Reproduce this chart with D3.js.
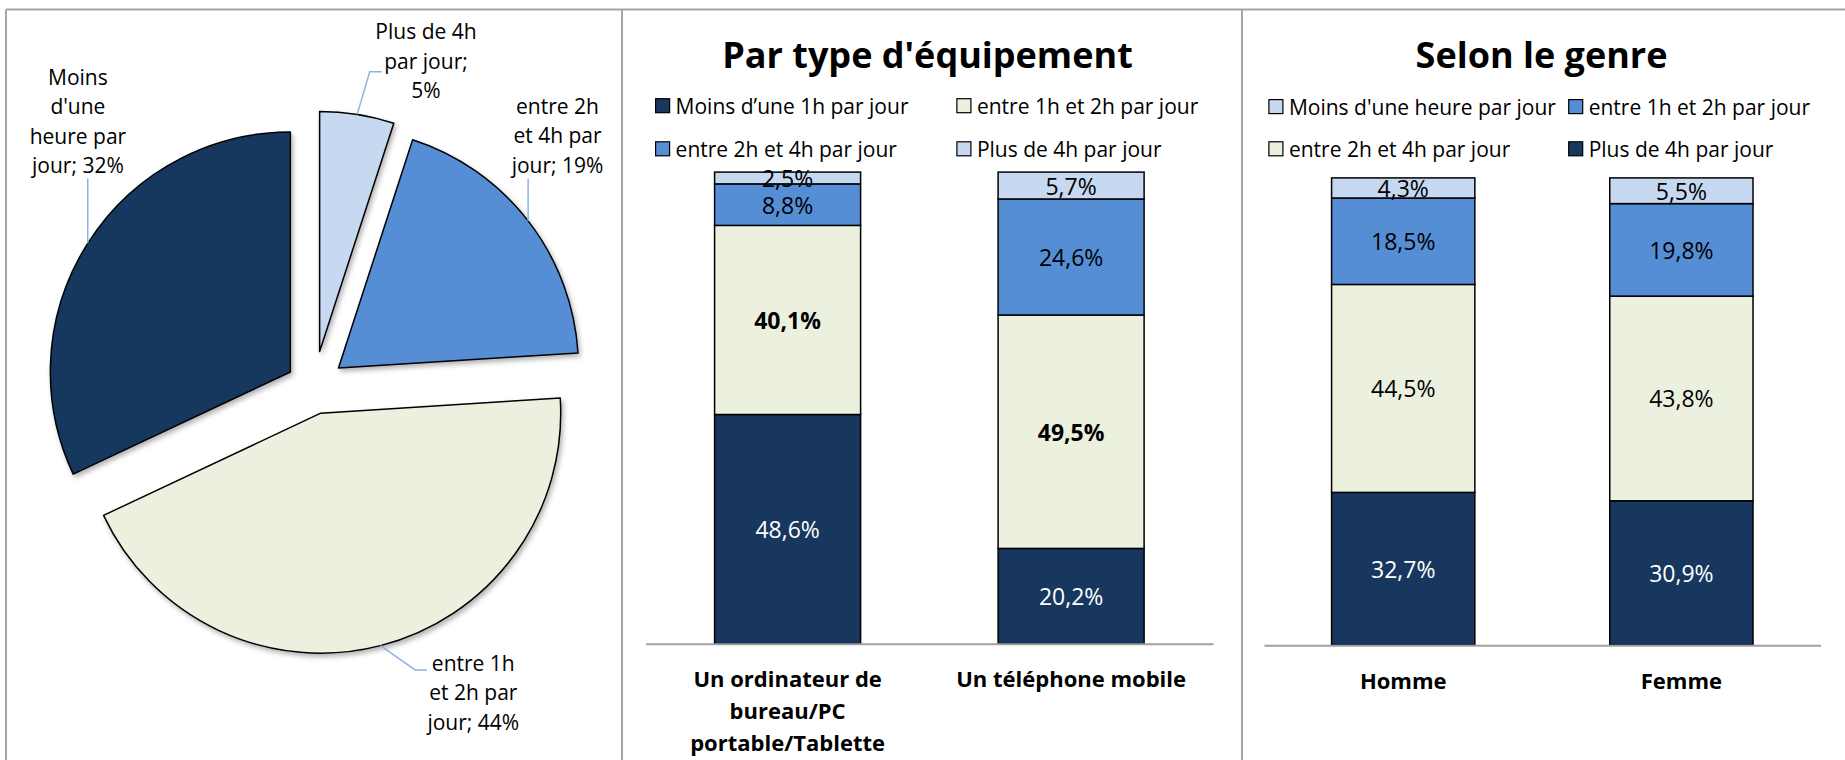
<!DOCTYPE html>
<html>
<head>
<meta charset="utf-8">
<script src="https://cdn.jsdelivr.net/npm/d3@7"></script>
<style>
  body { margin: 0; background: #fff; }
  svg text { font-family: "Open Sans", sans-serif; }
</style>
</head>
<body>
<div id="chart"></div>
<script>
// ---- data ----
// pie, clockwise from 12 o'clock (label text ends with the value)
const pieNames = ["Plus de 4h\npar jour;\n", "entre 2h\net 4h par\njour; ", "entre 1h\net 2h par\njour; ", "Moins\nd'une\nheure par\njour; "]
const pieValues = [5, 19, 44, 32]

// par type d'equipement
const deviceCats = ["Un ordinateur de\nbureau/PC\nportable/Tablette", "Un téléphone mobile"]
const deviceSeries = ["Moins d’une 1h par jour", "entre 1h et 2h par jour", "entre 2h et 4h par jour", "Plus de 4h par jour"]
const deviceMoins1h = [48.6, 20.2]
const device1h2h = [40.1, 49.5]
const device2h4h = [8.8, 24.6]
const devicePlus4h = [2.5, 5.7]

// selon le genre (stacked bottom -> top as drawn)
const genderCats = ["Homme", "Femme"]
const genderSeries = ["Moins d'une heure par jour", "entre 1h et 2h par jour", "entre 2h et 4h par jour", "Plus de 4h par jour"]
const genderPlus4h = [32.7, 30.9]
const gender2h4h = [44.5, 43.8]
const gender1h2h = [18.5, 19.8]
const genderMoins1h = [4.3, 5.5]

const DARK = "#17375E", BLUE = "#558ED5", GREEN = "#EBF1DE", LIGHT = "#C6D9F1"
const fmt = v => String(v).replace(".", ",") + "%"

const W = 1845, H = 760
const svg = d3.select("#chart").append("svg")
  .attr("width", W).attr("height", H)
  .style("display", "block")

svg.append("rect").attr("width", W).attr("height", H).attr("fill", "#fff")

const defs = svg.append("defs")
defs.append("filter").attr("id", "shadow")
  .attr("x", "-10%").attr("y", "-10%").attr("width", "130%").attr("height", "130%")
  .append("feDropShadow")
  .attr("dx", 2).attr("dy", 3).attr("stdDeviation", 2.5)
  .attr("flood-color", "#000").attr("flood-opacity", 0.3)

// panel frame
const frame = svg.append("g").attr("stroke", "#A6A6A6").attr("stroke-width", 2).attr("fill", "none")
frame.append("line").attr("x1", 6).attr("x2", W).attr("y1", 9.5).attr("y2", 9.5)
;[6, 622, 1242].forEach(x => {
  frame.append("line").attr("x1", x).attr("x2", x).attr("y1", 9.5).attr("y2", H)
})

// ---- pie ----
const pieC = [314, 387]
const pieR = 240
const pieColors = [LIGHT, BLUE, GREEN, DARK]
const explode = [36, 31, 27, 28]
// label centre (first line) and leader bends, relative to pie centre
const pieLabelLayout = [
  { x: 112, y: -356, leader: [[55.7, -315.3], [67.6, -315.3]] },
  { x: 243.5, y: -281.3, leader: "up" },
  { x: 159.3, y: 275.6, leader: [[101.2, 282.9], [113, 282.9]] },
  { x: -236.1, y: -310.4, leader: "up" }
]
const lineH = 29.6

const arcs = d3.pie().sort(null).startAngle(0)(pieValues)
const arc = d3.arc().innerRadius(0).outerRadius(pieR)
const pieG = svg.append("g").attr("transform", `translate(${pieC[0]},${pieC[1]})`)

arcs.forEach((a, i) => {
  const mid = (a.startAngle + a.endAngle) / 2
  const ox = explode[i] * Math.sin(mid), oy = -explode[i] * Math.cos(mid)
  pieG.append("path")
    .attr("d", arc(a))
    .attr("transform", `translate(${ox},${oy})`)
    .attr("fill", pieColors[i])
    .attr("stroke", "#000")
    .attr("stroke-width", 1.5)
    .attr("stroke-linejoin", "round")
    .attr("filter", "url(#shadow)")

  // leader line from the middle of the outer arc
  const sx = ox + pieR * Math.sin(mid), sy = oy - pieR * Math.cos(mid)
  const lay = pieLabelLayout[i]
  let pts = [[sx, sy]]
  if (lay.leader === "up") pts.push([sx, -208.6])
  else pts = pts.concat(lay.leader)
  pieG.append("path")
    .attr("d", d3.line()(pts))
    .attr("fill", "none")
    .attr("stroke", "#8DB3E2")
    .attr("stroke-width", 1.5)

  const lines = (pieNames[i] + pieValues[i] + "%").split("\n")
  const t = pieG.append("text")
    .attr("text-anchor", "middle")
    .attr("font-size", 21)
    .attr("fill", "#000")
  lines.forEach((s, k) => {
    t.append("tspan")
      .attr("x", lay.x)
      .attr("y", lay.y + k * lineH)
      .attr("dominant-baseline", "central")
      .text(s)
  })
})

// ---- stacked bars ----
function stackedChart(o) {
  const g = svg.append("g")
  const rows = o.cats.map((c, i) => {
    const r = { cat: c }
    o.keys.forEach((k, j) => { r[k] = o.values[j][i] })
    return r
  })
  const series = d3.stack().keys(o.keys)(rows)

  const x = d3.scaleBand().domain(o.cats).range(o.xRange)
    .paddingInner(0.485).paddingOuter(0.243)
  const y = d3.scaleLinear().domain([0, 100]).range(o.yRange)

  g.append("text")
    .attr("x", o.titleX).attr("y", 67.9)
    .attr("text-anchor", "middle")
    .attr("font-size", 36).attr("font-weight", "bold")
    .text(o.title)

  // legend
  o.legend.forEach((l, i) => {
    const lx = o.legendX[i % 2], ly = o.legendY[Math.floor(i / 2)]
    g.append("rect")
      .attr("x", lx).attr("y", ly - 7)
      .attr("width", 14).attr("height", 14)
      .attr("fill", l.color).attr("stroke", "#000").attr("stroke-width", 1.2)
    g.append("text")
      .attr("x", lx + 20).attr("y", ly)
      .attr("dominant-baseline", "central")
      .attr("font-size", 21)
      .text(l.name)
  })

  series.forEach((s, j) => {
    g.selectAll(null).data(s).join("rect")
      .attr("x", d => x(d.data.cat))
      .attr("y", d => y(d[1]))
      .attr("width", x.bandwidth())
      .attr("height", d => y(d[0]) - y(d[1]))
      .attr("fill", o.colors[j])
      .attr("stroke", "#000")
      .attr("stroke-width", 1.5)
  })

  g.append("g")
    .attr("transform", `translate(0,${y(0)})`)
    .call(d3.axisBottom(x).tickSize(0).tickSizeOuter(0).tickFormat(""))
    .call(a => a.select(".domain").attr("stroke", "#A0A0A0").attr("stroke-width", 2))

  series.forEach((s, j) => {
    g.selectAll(null).data(s).join("text")
      .attr("x", d => x(d.data.cat) + x.bandwidth() / 2)
      .attr("y", d => (y(d[0]) + y(d[1])) / 2)
      .attr("text-anchor", "middle")
      .attr("dominant-baseline", "central")
      .attr("font-size", 23)
      .attr("font-weight", o.boldKey === o.keys[j] ? "bold" : "normal")
      .attr("fill", o.colors[j] === DARK ? "#fff" : "#000")
      .text(d => fmt(d.data[o.keys[j]]))
  })

  // category labels
  o.cats.forEach(c => {
    const t = g.append("text")
      .attr("text-anchor", "middle")
      .attr("font-size", 22).attr("font-weight", "bold")
    c.split("\n").forEach((s, k) => {
      t.append("tspan")
        .attr("x", x(c) + x.bandwidth() / 2)
        .attr("y", o.catY + k * 32)
        .attr("dominant-baseline", "central")
        .text(s)
    })
  })
}

stackedChart({
  title: "Par type d'équipement",
  titleX: 927.5,
  cats: deviceCats,
  keys: ["moins", "h12", "h24", "plus"],
  values: [deviceMoins1h, device1h2h, device2h4h, devicePlus4h],
  colors: [DARK, GREEN, BLUE, LIGHT],
  boldKey: "h12",
  xRange: [645.7, 1213],
  yRange: [643.7, 172.1],
  catY: 677.6,
  legendX: [655.6, 956.9],
  legendY: [105.7, 148.8],
  legend: [
    { name: deviceSeries[0], color: DARK },
    { name: deviceSeries[1], color: GREEN },
    { name: deviceSeries[2], color: BLUE },
    { name: deviceSeries[3], color: LIGHT }
  ]
})

stackedChart({
  title: "Selon le genre",
  titleX: 1541.5,
  cats: genderCats,
  keys: ["plus", "h24", "h12", "moins"],
  values: [genderPlus4h, gender2h4h, gender1h2h, genderMoins1h],
  colors: [DARK, GREEN, BLUE, LIGHT],
  boldKey: null,
  xRange: [1264, 1820.6],
  yRange: [645.2, 177.9],
  catY: 680,
  legendX: [1268.9, 1568.7],
  legendY: [106.6, 148.8],
  legend: [
    { name: genderSeries[0], color: LIGHT },
    { name: genderSeries[1], color: BLUE },
    { name: genderSeries[2], color: GREEN },
    { name: genderSeries[3], color: DARK }
  ]
})
</script>
</body>
</html>
